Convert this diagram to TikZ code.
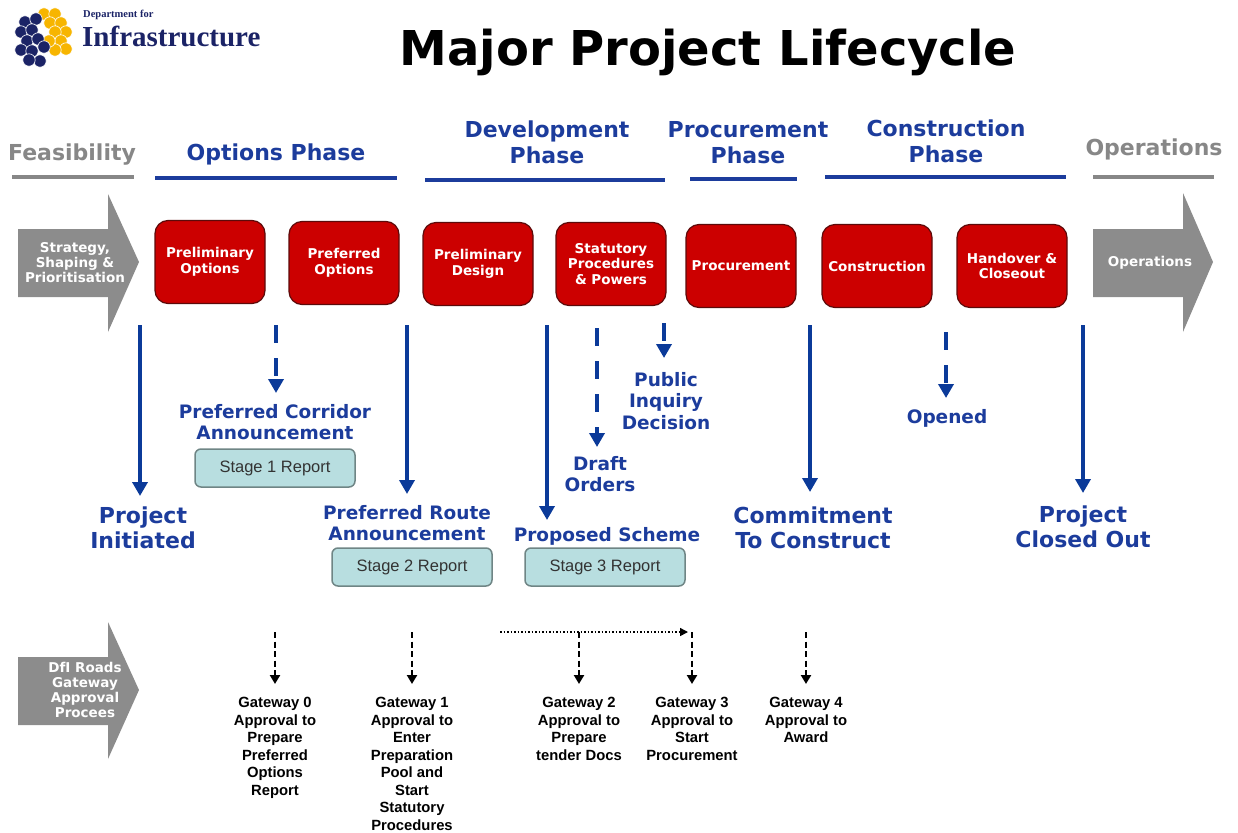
\documentclass[tikz,border=0pt]{standalone}
\usepackage{fontspec}
\setmainfont{DejaVu Sans}
\newfontfamily\arialfont{Liberation Sans}
\newfontfamily\logoserif{Liberation Serif}
\usetikzlibrary{arrows.meta,positioning}

\definecolor{dfiblue}{HTML}{1C3C9C}
\definecolor{arrowblue}{HTML}{0B3A99}
\definecolor{boxred}{HTML}{CC0000}
\definecolor{boxedge}{HTML}{5C0A0A}
\definecolor{arrowgrey}{HTML}{8C8C8C}
\definecolor{textgrey}{HTML}{878787}
\definecolor{reportfill}{HTML}{B8DEE0}
\definecolor{reportedge}{HTML}{6F8585}
\definecolor{logonavy}{HTML}{1B2366}
\definecolor{logoyellow}{HTML}{F7B500}

\begin{document}
\begin{tikzpicture}[x=1pt, y=-1pt,
    lifebox/.style={draw=boxedge, line width=1.2pt, fill=boxred, rounded corners=13pt,
      minimum width=110pt, minimum height=83pt, inner sep=0pt, align=center, text=white,
      font=\fontsize{13.5}{15.5}\selectfont\bfseries},
    phase/.style={anchor=north, inner sep=0pt, align=center, text=dfiblue,
      font=\fontsize{22}{26}\selectfont\bfseries},
    milestone/.style={anchor=north, inner sep=0pt, align=center, text=dfiblue,
      font=\fontsize{18.5}{21.5}\selectfont\bfseries},
    keystone/.style={milestone, font=\fontsize{22}{25}\selectfont\bfseries},
    report/.style={draw=reportedge, line width=1.5pt, fill=reportfill, rounded corners=6pt,
      minimum width=160pt, minimum height=38pt, text=black!80,
      font=\arialfont\fontsize{16.5}{19}\selectfont},
    gatetext/.style={anchor=north, inner sep=0pt, align=center,
      font=\arialfont\fontsize{14.8}{17.5}\selectfont\bfseries},
    greytext/.style={text=white, align=center, inner sep=0pt,
      font=\fontsize{13.5}{15}\selectfont\bfseries},
    bluearrow/.style={draw=arrowblue, line width=4.5pt,
      -{Triangle[width=15pt,length=14pt]}, shorten >=11pt},
    bluedash/.style={bluearrow, dash pattern=on 18pt off 15pt},
    gatearrow/.style={draw=black, line width=2.5pt, dash pattern=on 6pt off 3.5pt,
      -{Triangle[width=10pt,length=9pt]}, shorten >=13pt},
  ]
  \useasboundingbox (0,0) rectangle (1238,832);

  % logo
  \begin{scope}
    \foreach \x/\y in {44/14,55/14,50/23,61/23,66/32,55/32,61/41,66/49,55/50,49/41}
      \filldraw[fill=logoyellow, draw=white, line width=0.6pt] (\x,\y) circle (6.2);
    \foreach \x/\y in {25/22,36/19,21/32,32/30,27/41,38/39,21/50,32/51,44/47,40/61,29/60}
      \filldraw[fill=logonavy, draw=white, line width=0.6pt] (\x,\y) circle (6.2);
  \end{scope}
  \node[anchor=base west, inner sep=0pt, text=logonavy,
    font=\logoserif\fontsize{10.5}{12}\selectfont\bfseries] (dept) at (83,18) {Department for};
  \node[anchor=base west, inner sep=0pt, text=logonavy,
    font=\logoserif\fontsize{29}{32}\selectfont\bfseries] (infra) at (82,47) {Infrastructure};

  \node[anchor=base, inner sep=0pt, font=\fontsize{48}{56}\selectfont\bfseries] (title)
    at (708,66) {Major Project Lifecycle};

  % phases
  \node[phase, text=textgrey] (feas) at (72,144) {Feasibility};
  \node[phase] (options) at (276,144) {Options Phase};
  \node[phase] (devel) at (547,121) {Development\\Phase};
  \node[phase] (procph) at (748,121) {Procurement\\Phase};
  \node[phase] (consph) at (946,120) {Construction\\Phase};
  \node[phase, text=textgrey] (ops) at (1154,139) {Operations};
  \draw[line width=4pt, textgrey] (12,177) -- (134,177);
  \draw[line width=4pt, dfiblue] (155,178) -- (397,178);
  \draw[line width=4pt, dfiblue] (425,180) -- (665,180);
  \draw[line width=4pt, dfiblue] (690,179) -- (797,179);
  \draw[line width=4pt, dfiblue] (825,177) -- (1066,177);
  \draw[line width=4pt, textgrey] (1093,177) -- (1214,177);

  % grey arrows
  \fill[arrowgrey] (18,229) -- (108,229) -- (108,194) -- (139,262) -- (108,332)
    -- (108,297) -- (18,297) -- cycle;
  \fill[arrowgrey] (1093,229) -- (1183,229) -- (1183,193) -- (1213,262) -- (1183,332)
    -- (1183,297) -- (1093,297) -- cycle;
  \fill[arrowgrey] (18,657) -- (108,657) -- (108,622) -- (139,690) -- (108,759)
    -- (108,725) -- (18,725) -- cycle;
  \node[greytext, anchor=north] (strat) at (75,242) {Strategy,\\Shaping \&\\Prioritisation};
  \node[greytext] (opsarrow) at (1150,263) {Operations};
  \node[greytext, anchor=north] (dfi) at (85,662) {DfI Roads\\Gateway\\Approval\\Procees};

  % stages
  \node[lifebox] (prelopt) at (210,262) {Preliminary\\Options};
  \node[lifebox] (prefopt) at (344,263) {Preferred\\Options};
  \node[lifebox] (preldes) at (478,264) {Preliminary\\Design};
  \node[lifebox] (statut) at (611,264) {Statutory\\Procedures\\\& Powers};
  \node[lifebox] (procure) at (741,266) {Procurement};
  \node[lifebox] (constr) at (877,266) {Construction};
  \node[lifebox] (handover) at (1012,266) {Handover \&\\Closeout};

  % milestones
  \coordinate (a-init) at (140,325);
  \coordinate (a-corr) at (276,325);
  \coordinate (a-route) at (407,325);
  \coordinate (a-scheme) at (547,325);
  \coordinate (a-draft) at (597,328);
  \coordinate (a-inq) at (664,323);
  \coordinate (a-commit) at (810,325);
  \coordinate (a-open) at (946,332);
  \coordinate (a-closed) at (1083,325);
  \node[keystone] (init) at (143,507) {Project\\Initiated};
  \node[milestone] (corr) at (275,404) {Preferred Corridor\\Announcement};
  \node[milestone] (route) at (407,505) {Preferred Route\\Announcement};
  \node[milestone] (scheme) at (607,527) {Proposed Scheme};
  \node[milestone] (draft) at (600,456) {Draft\\Orders};
  \node[milestone] (inq) at (666,372) {Public\\Inquiry\\Decision};
  \node[keystone] (commit) at (813,507) {Commitment\\To Construct};
  \node[milestone] (open) at (947,409) {Opened};
  \node[keystone] (closed) at (1083,506) {Project\\Closed Out};
  \draw[bluearrow] (a-init) -- (a-init |- init.north);
  \draw[bluedash] (a-corr) -- (a-corr |- corr.north);
  \draw[bluearrow] (a-route) -- (a-route |- route.north);
  \draw[bluearrow, shorten >=7pt] (a-scheme) -- (a-scheme |- scheme.north);
  \draw[bluedash, shorten >=9pt] (a-draft) -- (a-draft |- draft.north);
  \draw[bluedash, shorten >=14pt] (a-inq) -- (a-inq |- inq.north);
  \draw[bluearrow, shorten >=15pt] (a-commit) -- (a-commit |- commit.north);
  \draw[bluedash] (a-open) -- (a-open |- open.north);
  \draw[bluearrow, shorten >=13pt] (a-closed) -- (a-closed |- closed.north);

  \node[report] (rep1) at (275,468) {Stage 1 Report};
  \node[report] (rep2) at (412,567) {Stage 2 Report};
  \node[report] (rep3) at (605,567) {Stage 3 Report};

  % gateways
  \node[gatetext] (gw0) at (275,697) {Gateway 0\\Approval to\\Prepare\\Preferred\\Options\\Report};
  \node[gatetext] (gw1) at (412,697) {Gateway 1\\Approval to\\Enter\\Preparation\\Pool and\\Start\\Statutory\\Procedures};
  \node[gatetext] (gw2) at (579,697) {Gateway 2\\Approval to\\Prepare\\tender Docs};
  \node[gatetext] (gw3) at (692,697) {Gateway 3\\Approval to\\Start\\Procurement};
  \node[gatetext] (gw4) at (806,697) {Gateway 4\\Approval to\\Award};
  \foreach \g/\x in {gw0/275,gw1/412,gw2/579,gw3/692,gw4/806}{
    \coordinate (\g-top) at (\x,632);
    \draw[gatearrow] (\g-top) -- (\g-top |- \g.north);
  }
  \coordinate (dotstart) at (500,632);
  \draw[dotted, line width=1.5pt, -{Triangle[width=8pt,length=8pt]}] (dotstart) -- ([xshift=-4pt]gw3-top);
\end{tikzpicture}
\end{document}
